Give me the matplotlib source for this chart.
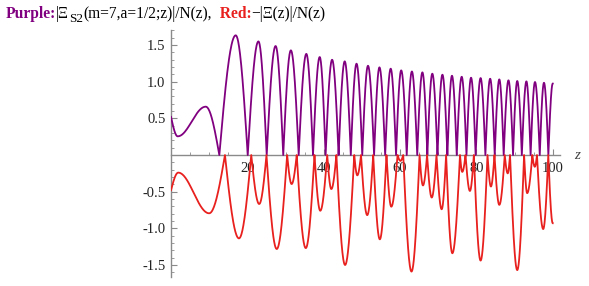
import numpy as np
import matplotlib
matplotlib.use("Agg")
import matplotlib.pyplot as plt
from matplotlib.ticker import MultipleLocator

# ---------------- data ----------------
# Purple curve |Xi_S2(m=7,a=1/2;z)|/N(z)
purple_start_z = [0.0, 1.75, 9.1]
purple_start_y = [0.52, 0.255, 0.66]
purple_zeros = [12.66, 20.1, 25.07, 29.4, 33.45, 37.2, 40.5, 43.9, 47.1, 50.1,
                53.2, 56.1, 58.95, 61.75, 64.5, 67.15, 69.8, 72.4, 74.85, 77.4,
                79.8, 82.35, 84.8, 87.15, 89.6, 91.9, 94.2, 96.6, 98.85]
purple_peak_z = [16.95, 22.9, 27.4, 31.4, 35.45, 38.95, 42.2, 45.5, 48.6, 51.6,
                 54.6, 57.55, 60.3, 63.1, 65.85, 68.45, 71.1, 73.6, 76.15, 78.6,
                 81.1, 83.6, 86.0, 88.4, 90.7, 93.1, 95.35, 97.7, 100.0]
purple_peak_h = [1.633, 1.55, 1.487, 1.428, 1.38, 1.337, 1.30, 1.278, 1.246, 1.218,
                 1.196, 1.178, 1.155, 1.14, 1.128, 1.11, 1.096, 1.082, 1.068, 1.055,
                 1.05, 1.041, 1.032, 1.019, 1.01, 1.005, 0.996, 0.986, 0.975]

# Red curve -|Xi(z)|/N(z)
red_start_z = [0.0, 1.9, 10.0]
red_start_y = [-0.48, -0.24, -0.795]
red_zeros = [14.135, 21.022, 25.011, 30.425, 32.935, 37.586, 40.919, 43.327,
             48.005, 49.774, 52.970, 56.446, 59.347, 60.832, 65.113, 67.080,
             69.546, 72.067, 75.705, 77.145, 79.337, 82.910, 84.735, 87.425,
             88.809, 92.492, 94.651, 95.871, 98.831]
red_dip_z = [17.8, 23.1, 27.7, 31.6, 35.3, 39.1, 42.0, 45.6, 48.8, 51.4, 54.7,
             57.7, 60.1, 63.0, 66.0, 68.3, 70.9, 73.7, 76.3, 78.3, 81.1, 83.8,
             86.0, 88.2, 90.7, 93.3, 95.3, 97.5, 100.0]
red_dip_y = [-1.137, -0.668, -1.282, -0.396, -1.27, -0.76, -0.464, -1.50, -0.277,
             -0.82, -1.15, -0.705, -0.08, -1.59, -0.415, -0.58, -0.74, -1.34,
             -0.23, -0.49, -1.44, -0.43, -0.68, -0.25, -1.57, -0.52, -0.16,
             -1.01, -0.93]

x_ticks = [20, 40, 60, 80, 100]
x_ticklabels = ["20", "40", "60", "80", "100"]
y_ticks = [-1.5, -1.0, -0.5, 0.5, 1.0, 1.5]
y_ticklabels = ["-1.5", "-1.0", "-0.5", "0.5", "1.0", "1.5"]


def knots(start_z, start_y, zeros, ext_z, ext_y):
    kz = list(start_z)
    ky = list(start_y)
    kind = ["c"] + ["e"] * (len(start_z) - 1)
    for zz, ez, ey in zip(zeros, ext_z, ext_y):
        kz += [zz, ez]
        ky += [0.0, ey]
        kind += ["c", "e"]
    return kz, ky, kind


def smooth(kz, ky, kind, m=40):
    xs, ys = [], []
    for i in range(len(kz) - 1):
        t = np.linspace(0, 1, m)
        a, b = kind[i], kind[i + 1]
        if a == "c" and b == "e":
            s = np.sin(np.pi / 2 * t)
        elif a == "e" and b == "c":
            s = 1 - np.cos(np.pi / 2 * t)
        elif a == "e" and b == "e":
            s = (1 - np.cos(np.pi * t)) / 2
        else:
            s = t
        xs.append(kz[i] + (kz[i + 1] - kz[i]) * t)
        ys.append(ky[i] + (ky[i + 1] - ky[i]) * s)
    return np.concatenate(xs), np.concatenate(ys)


PURPLE = "#800080"
RED = "#e8201e"
GRAY = "#8a8a8a"
SERIF = ["Liberation Serif", "DejaVu Serif"]

fig = plt.figure(figsize=(5.89, 2.86), dpi=100)
ax = fig.add_axes([171 / 589, 1 - 276.7 / 286, 389 / 589, (276.7 - 29.7) / 286])

px, py = smooth(*knots(purple_start_z, purple_start_y, purple_zeros,
                       purple_peak_z, purple_peak_h))
rx, ry = smooth(*knots(red_start_z, red_start_y, red_zeros, red_dip_z, red_dip_y))
ax.plot(px, py, color=PURPLE, lw=1.3, solid_joinstyle="round", zorder=3)
ax.plot(rx, ry, color=RED, lw=1.3, solid_joinstyle="round", zorder=3)

ax.set_xlim(0, 101.9)
ax.set_ylim(-1.66, 1.71)

for s in ["top", "right"]:
    ax.spines[s].set_visible(False)
for s in ["left", "bottom"]:
    ax.spines[s].set_position(("data", 0))
    ax.spines[s].set_color(GRAY)
    ax.spines[s].set_linewidth(1.0)
    ax.spines[s].set_zorder(2)

ax.set_xticks(x_ticks)
ax.set_xticklabels(x_ticklabels)
ax.set_yticks(y_ticks)
ax.set_yticklabels(y_ticklabels)
ax.xaxis.set_minor_locator(MultipleLocator(5))
ax.yaxis.set_minor_locator(MultipleLocator(0.1))
ax.tick_params(which="major", direction="in", length=4, width=0.8, color=GRAY,
               labelsize=10.5, labelcolor="#222222")
ax.tick_params(which="minor", direction="in", length=2.2, width=0.6, color=GRAY)
ax.tick_params(axis="x", which="major", pad=5)
ax.tick_params(axis="y", which="major", pad=4)
for lab in ax.get_xticklabels() + ax.get_yticklabels():
    lab.set_family(SERIF)

ax.text(1.044, 0, "z", transform=ax.get_yaxis_transform(), ha="center",
        va="center", fontsize=11, style="italic", family=SERIF, color="#444444")

# ---------------- title ----------------
fs = 11.2
t1 = fig.text(6 / 589, 1 - 18 / 286, "Purple:", fontsize=fs, fontweight="bold",
              color=PURPLE, family=SERIF, va="baseline")
t2 = ax.annotate("|Ξ", xy=(1, 0), xycoords=t1, va="bottom", ha="left",
                 fontsize=fs, family=SERIF, color="black", annotation_clip=False)
t3 = ax.annotate("S2", xy=(1, 0), xycoords=t2, xytext=(0, -2.5),
                 textcoords="offset points", va="bottom", ha="left",
                 fontsize=fs * 0.85, family=SERIF, color="black",
                 annotation_clip=False)
t4 = ax.annotate("(m=7,a=1/2;z)|/N(z),", xy=(1, 0), xycoords=(t3, t2),
                 va="bottom", ha="left", fontsize=fs, family=SERIF,
                 color="black", annotation_clip=False)
t5 = ax.annotate("  Red:", xy=(1, 0), xycoords=t4, va="bottom", ha="left",
                 fontsize=fs, fontweight="bold", family=SERIF, color=RED,
                 annotation_clip=False)
t6 = ax.annotate("\u2212|Ξ(z)|/N(z)", xy=(1, 0), xycoords=t5, va="bottom",
                 ha="left", fontsize=fs, family=SERIF, color="black",
                 annotation_clip=False)

fig.savefig("out.png", dpi=100)
